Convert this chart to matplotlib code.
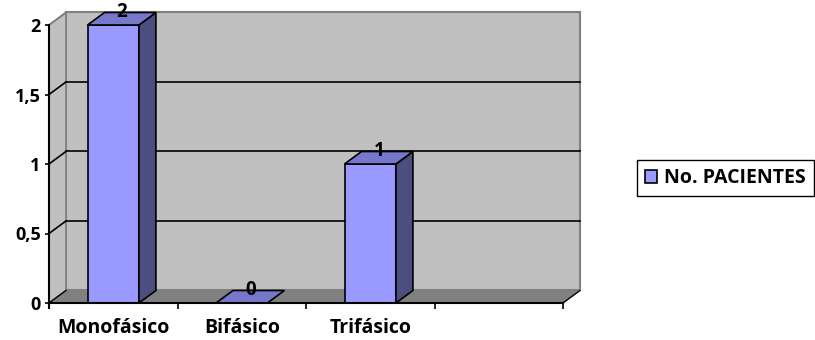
import matplotlib
matplotlib.use("Agg")
import matplotlib.pyplot as plt
from matplotlib.patches import Polygon, Patch

plt.rcParams['font.family'] = ['Open Sans', 'DejaVu Sans']
plt.rcParams['font.weight'] = 'bold'

# datos
categorias = ["Monofásico", "Bifásico", "Trifásico", ""]
pacientes = [2, 0, 1, None]
serie = "No. PACIENTES"
y_ticks = [0, 0.5, 1, 1.5, 2]
y_labels = ["0", "0,5", "1", "1,5", "2"]

# colores estilo Excel 3D
FRENTE = "#9999FF"
TECHO = "#7777CC"
LADO = "#4D4D80"
PARED = "#C0C0C0"
PISO = "#808080"
BORDE = "#808080"

# profundidad 3D en unidades de datos
DX = 0.132
DY = 0.09
ANCHO = 0.4

fig = plt.figure(figsize=(8.15, 3.4), dpi=100)
ax = fig.add_axes([49 / 815, 37 / 340, 514 / 815, 278 / 340])
n = len(categorias)
ax.set_xlim(0, n)
ax.set_ylim(0, 2)
ax.set_facecolor("none")
ymax = y_ticks[-1]


def poly(pts, fc, ec, lw=1.0, z=1):
    ax.add_patch(Polygon(pts, closed=True, facecolor=fc, edgecolor=ec,
                         linewidth=lw, zorder=z, clip_on=False))


# pared del fondo, pared lateral y piso
poly([(DX, DY), (n + DX, DY), (n + DX, ymax + DY), (DX, ymax + DY)], PARED, BORDE, 1.5, 0)
poly([(0, 0), (DX, DY), (DX, ymax + DY), (0, ymax)], PARED, BORDE, 1.2, 0)
poly([(0, 0), (n, 0), (n + DX, DY), (DX, DY)], PISO, "none", 1, 0.5)
ax.plot([n, n + DX], [0, DY], color="black", lw=1, zorder=0.6, clip_on=False)
ax.plot([0, DX], [0, DY], color="black", lw=1, zorder=0.6, clip_on=False)

# lineas de cuadricula
for yv in y_ticks[1:-1]:
    ax.plot([DX, n + DX], [yv + DY, yv + DY], color="black", lw=1.2, zorder=0.7, clip_on=False)
for yv in y_ticks[1:]:
    ax.plot([0, DX], [yv, yv + DY], color="black" if yv < ymax else BORDE,
            lw=1.2, zorder=0.7, clip_on=False)

# barras
for i, v in enumerate(pacientes):
    if v is None:
        continue
    c = i + 0.5
    x0, x1 = c - ANCHO / 2, c + ANCHO / 2
    if v > 0:
        poly([(x0, 0), (x1, 0), (x1, v), (x0, v)], FRENTE, "black", 1.2, 2)
        poly([(x1, 0), (x1 + DX, DY), (x1 + DX, v + DY), (x1, v)], LADO, "black", 1.2, 2)
    poly([(x0, v), (x1, v), (x1 + DX, v + DY), (x0 + DX, v + DY)], TECHO, "black", 1.2, 2)
    ax.text(c + DX / 2, v + DY, f"{v}", ha="center", va="center",
            fontsize=13.5, fontweight="bold", zorder=3)

# ejes
for s in ["top", "right"]:
    ax.spines[s].set_visible(False)
ax.spines["left"].set_linewidth(1.5)
ax.spines["bottom"].set_linewidth(1.5)
ax.spines["left"].set_zorder(4)
ax.spines["bottom"].set_zorder(4)
ax.set_yticks(y_ticks)
ax.set_yticklabels(y_labels)
ax.tick_params(axis="y", length=3, width=1.2, pad=3, labelsize=13)
ax.set_xticks(range(1, n + 1))
ax.set_xticklabels([])
ax.tick_params(axis="x", which="major", length=4, width=1.2)
ax.set_xticks([i + 0.5 for i in range(n)], minor=True)
ax.set_xticklabels(categorias, minor=True)
ax.tick_params(axis="x", which="minor", length=0, pad=11, labelsize=14)
ax.spines["left"].set_bounds(-0.036, ymax)
ax.spines["bottom"].set_bounds(0, n)

# leyenda
fig.legend(handles=[Patch(facecolor=FRENTE, edgecolor="black", linewidth=1.2, label=serie)],
           loc="center left", bbox_to_anchor=(637 / 815, 1 - 178 / 340),
           frameon=True, fancybox=False, edgecolor="black", framealpha=1,
           fontsize=14, handlelength=0.65, handleheight=0.65, handletextpad=0.35,
           borderpad=0.4, borderaxespad=0)

fig.savefig("out.png", dpi=100)
